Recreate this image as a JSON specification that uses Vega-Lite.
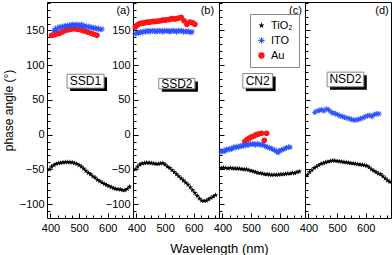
{
"$schema": "https://vega.github.io/schema/vega-lite/v6.json",
"padding": {"left": 1, "top": 1, "right": 0, "bottom": 0},
"config": {"font": "Liberation Sans", "view": {"stroke": "black", "strokeWidth": 1}, "axis": {"domain": false, "grid": false, "tickColor": "black", "labelColor": "black", "titleColor": "black", "labelFontSize": 11, "labelFlush": false, "labelOverlap": false}},
"title": {"text": "Wavelength (nm)", "orient": "bottom", "anchor": "middle", "fontSize": 13, "fontWeight": "normal", "color": "black", "offset": 9, "dx": 22},
"resolve": {"scale": {"color": "shared", "shape": "shared", "x": "independent", "y": "independent"}},
"spacing": 0,
"bounds": "flush",
"datasets": {"d": [
{"p":"a","s":"Au","wl":404,"ph":143},{"p":"a","s":"Au","wl":412,"ph":143.5},{"p":"a","s":"Au","wl":422,"ph":145},{"p":"a","s":"Au","wl":432,"ph":146},{"p":"a","s":"Au","wl":442,"ph":148},{"p":"a","s":"Au","wl":452,"ph":150},{"p":"a","s":"Au","wl":462,"ph":151},{"p":"a","s":"Au","wl":472,"ph":152},{"p":"a","s":"Au","wl":482,"ph":152.5},{"p":"a","s":"Au","wl":492,"ph":152},{"p":"a","s":"Au","wl":502,"ph":151.5},{"p":"a","s":"Au","wl":512,"ph":150},{"p":"a","s":"Au","wl":522,"ph":149},{"p":"a","s":"Au","wl":532,"ph":147.5},{"p":"a","s":"Au","wl":542,"ph":146},{"p":"a","s":"Au","wl":552,"ph":144.5},{"p":"a","s":"Au","wl":562,"ph":143},
{"p":"b","s":"Au","wl":396,"ph":155},{"p":"b","s":"Au","wl":404,"ph":158},{"p":"b","s":"Au","wl":412,"ph":160},{"p":"b","s":"Au","wl":420,"ph":160.5},{"p":"b","s":"Au","wl":428,"ph":161},{"p":"b","s":"Au","wl":436,"ph":162},{"p":"b","s":"Au","wl":444,"ph":162},{"p":"b","s":"Au","wl":452,"ph":162.5},{"p":"b","s":"Au","wl":460,"ph":163},{"p":"b","s":"Au","wl":468,"ph":163},{"p":"b","s":"Au","wl":476,"ph":163.5},{"p":"b","s":"Au","wl":484,"ph":164},{"p":"b","s":"Au","wl":492,"ph":165},{"p":"b","s":"Au","wl":500,"ph":165},{"p":"b","s":"Au","wl":508,"ph":165.5},{"p":"b","s":"Au","wl":516,"ph":166},{"p":"b","s":"Au","wl":524,"ph":167},{"p":"b","s":"Au","wl":532,"ph":166.5},{"p":"b","s":"Au","wl":540,"ph":167},{"p":"b","s":"Au","wl":548,"ph":168},{"p":"b","s":"Au","wl":556,"ph":169},{"p":"b","s":"Au","wl":566,"ph":164},{"p":"b","s":"Au","wl":576,"ph":159},{"p":"b","s":"Au","wl":586,"ph":162},{"p":"b","s":"Au","wl":596,"ph":161},{"p":"b","s":"Au","wl":604,"ph":159},
{"p":"c","s":"Au","wl":478,"ph":-10},{"p":"c","s":"Au","wl":486,"ph":-7},{"p":"c","s":"Au","wl":494,"ph":-5},{"p":"c","s":"Au","wl":502,"ph":-3},{"p":"c","s":"Au","wl":510,"ph":-2},{"p":"c","s":"Au","wl":518,"ph":0},{"p":"c","s":"Au","wl":526,"ph":1},{"p":"c","s":"Au","wl":536,"ph":2},{"p":"c","s":"Au","wl":546,"ph":-8},{"p":"c","s":"Au","wl":554,"ph":2},
{"p":"a","s":"ITO","wl":412,"ph":150},{"p":"a","s":"ITO","wl":418,"ph":153},{"p":"a","s":"ITO","wl":424,"ph":151},{"p":"a","s":"ITO","wl":430,"ph":155},{"p":"a","s":"ITO","wl":436,"ph":154},{"p":"a","s":"ITO","wl":442,"ph":156},{"p":"a","s":"ITO","wl":448,"ph":155},{"p":"a","s":"ITO","wl":454,"ph":157},{"p":"a","s":"ITO","wl":460,"ph":156},{"p":"a","s":"ITO","wl":466,"ph":158},{"p":"a","s":"ITO","wl":472,"ph":157},{"p":"a","s":"ITO","wl":478,"ph":159},{"p":"a","s":"ITO","wl":484,"ph":157},{"p":"a","s":"ITO","wl":490,"ph":159},{"p":"a","s":"ITO","wl":496,"ph":158},{"p":"a","s":"ITO","wl":502,"ph":157},{"p":"a","s":"ITO","wl":508,"ph":159},{"p":"a","s":"ITO","wl":514,"ph":156},{"p":"a","s":"ITO","wl":520,"ph":157},{"p":"a","s":"ITO","wl":526,"ph":155},{"p":"a","s":"ITO","wl":532,"ph":156},{"p":"a","s":"ITO","wl":538,"ph":154},{"p":"a","s":"ITO","wl":544,"ph":155},{"p":"a","s":"ITO","wl":550,"ph":153},{"p":"a","s":"ITO","wl":556,"ph":154},{"p":"a","s":"ITO","wl":562,"ph":152},{"p":"a","s":"ITO","wl":568,"ph":153},{"p":"a","s":"ITO","wl":574,"ph":151},{"p":"a","s":"ITO","wl":580,"ph":152},
{"p":"b","s":"ITO","wl":396,"ph":145},{"p":"b","s":"ITO","wl":402,"ph":147},{"p":"b","s":"ITO","wl":408,"ph":146},{"p":"b","s":"ITO","wl":414,"ph":148},{"p":"b","s":"ITO","wl":420,"ph":147},{"p":"b","s":"ITO","wl":426,"ph":149},{"p":"b","s":"ITO","wl":432,"ph":148},{"p":"b","s":"ITO","wl":438,"ph":150},{"p":"b","s":"ITO","wl":444,"ph":148},{"p":"b","s":"ITO","wl":450,"ph":150},{"p":"b","s":"ITO","wl":456,"ph":149},{"p":"b","s":"ITO","wl":462,"ph":150},{"p":"b","s":"ITO","wl":468,"ph":148},{"p":"b","s":"ITO","wl":474,"ph":150},{"p":"b","s":"ITO","wl":480,"ph":149},{"p":"b","s":"ITO","wl":486,"ph":150},{"p":"b","s":"ITO","wl":492,"ph":148},{"p":"b","s":"ITO","wl":498,"ph":150},{"p":"b","s":"ITO","wl":504,"ph":149},{"p":"b","s":"ITO","wl":510,"ph":150},{"p":"b","s":"ITO","wl":516,"ph":148},{"p":"b","s":"ITO","wl":522,"ph":150},{"p":"b","s":"ITO","wl":528,"ph":149},{"p":"b","s":"ITO","wl":534,"ph":150},{"p":"b","s":"ITO","wl":540,"ph":148},{"p":"b","s":"ITO","wl":546,"ph":150},{"p":"b","s":"ITO","wl":552,"ph":149},{"p":"b","s":"ITO","wl":558,"ph":150},{"p":"b","s":"ITO","wl":564,"ph":148},{"p":"b","s":"ITO","wl":570,"ph":149},{"p":"b","s":"ITO","wl":576,"ph":148},{"p":"b","s":"ITO","wl":582,"ph":149},{"p":"b","s":"ITO","wl":588,"ph":147},{"p":"b","s":"ITO","wl":594,"ph":148},
{"p":"c","s":"ITO","wl":396,"ph":-25},{"p":"c","s":"ITO","wl":402,"ph":-23},{"p":"c","s":"ITO","wl":408,"ph":-24},{"p":"c","s":"ITO","wl":414,"ph":-21},{"p":"c","s":"ITO","wl":420,"ph":-22},{"p":"c","s":"ITO","wl":426,"ph":-20},{"p":"c","s":"ITO","wl":432,"ph":-21},{"p":"c","s":"ITO","wl":438,"ph":-18},{"p":"c","s":"ITO","wl":444,"ph":-19},{"p":"c","s":"ITO","wl":450,"ph":-17},{"p":"c","s":"ITO","wl":456,"ph":-18},{"p":"c","s":"ITO","wl":462,"ph":-16},{"p":"c","s":"ITO","wl":468,"ph":-17},{"p":"c","s":"ITO","wl":474,"ph":-15},{"p":"c","s":"ITO","wl":480,"ph":-16},{"p":"c","s":"ITO","wl":486,"ph":-14},{"p":"c","s":"ITO","wl":492,"ph":-15},{"p":"c","s":"ITO","wl":498,"ph":-13},{"p":"c","s":"ITO","wl":504,"ph":-14},{"p":"c","s":"ITO","wl":510,"ph":-13},{"p":"c","s":"ITO","wl":516,"ph":-15},{"p":"c","s":"ITO","wl":522,"ph":-13},{"p":"c","s":"ITO","wl":528,"ph":-14},{"p":"c","s":"ITO","wl":534,"ph":-15},{"p":"c","s":"ITO","wl":540,"ph":-14},{"p":"c","s":"ITO","wl":546,"ph":-16},{"p":"c","s":"ITO","wl":552,"ph":-17},{"p":"c","s":"ITO","wl":558,"ph":-18},{"p":"c","s":"ITO","wl":564,"ph":-19},{"p":"c","s":"ITO","wl":570,"ph":-20},{"p":"c","s":"ITO","wl":576,"ph":-21},{"p":"c","s":"ITO","wl":582,"ph":-22},{"p":"c","s":"ITO","wl":588,"ph":-24},{"p":"c","s":"ITO","wl":594,"ph":-26},{"p":"c","s":"ITO","wl":600,"ph":-23},{"p":"c","s":"ITO","wl":606,"ph":-22},{"p":"c","s":"ITO","wl":612,"ph":-21},{"p":"c","s":"ITO","wl":618,"ph":-20},{"p":"c","s":"ITO","wl":624,"ph":-19},{"p":"c","s":"ITO","wl":630,"ph":-18},{"p":"c","s":"ITO","wl":636,"ph":-18},
{"p":"d","s":"ITO","wl":422,"ph":32},{"p":"d","s":"ITO","wl":430,"ph":34},{"p":"d","s":"ITO","wl":438,"ph":35},{"p":"d","s":"ITO","wl":446,"ph":36},{"p":"d","s":"ITO","wl":454,"ph":34},{"p":"d","s":"ITO","wl":462,"ph":37},{"p":"d","s":"ITO","wl":470,"ph":36},{"p":"d","s":"ITO","wl":478,"ph":33},{"p":"d","s":"ITO","wl":486,"ph":31},{"p":"d","s":"ITO","wl":494,"ph":30},{"p":"d","s":"ITO","wl":502,"ph":29},{"p":"d","s":"ITO","wl":510,"ph":27},{"p":"d","s":"ITO","wl":518,"ph":26},{"p":"d","s":"ITO","wl":526,"ph":25},{"p":"d","s":"ITO","wl":534,"ph":24},{"p":"d","s":"ITO","wl":542,"ph":23},{"p":"d","s":"ITO","wl":550,"ph":22},{"p":"d","s":"ITO","wl":558,"ph":21},{"p":"d","s":"ITO","wl":566,"ph":21},{"p":"d","s":"ITO","wl":574,"ph":22},{"p":"d","s":"ITO","wl":582,"ph":23},{"p":"d","s":"ITO","wl":590,"ph":24},{"p":"d","s":"ITO","wl":598,"ph":26},{"p":"d","s":"ITO","wl":606,"ph":27},{"p":"d","s":"ITO","wl":614,"ph":28},{"p":"d","s":"ITO","wl":622,"ph":26},{"p":"d","s":"ITO","wl":630,"ph":29},{"p":"d","s":"ITO","wl":638,"ph":30},{"p":"d","s":"ITO","wl":646,"ph":30},
{"p":"a","s":"TiO₂","wl":396,"ph":-50},{"p":"a","s":"TiO₂","wl":404,"ph":-46},{"p":"a","s":"TiO₂","wl":412,"ph":-44},{"p":"a","s":"TiO₂","wl":420,"ph":-42},{"p":"a","s":"TiO₂","wl":428,"ph":-41},{"p":"a","s":"TiO₂","wl":436,"ph":-40.5},{"p":"a","s":"TiO₂","wl":444,"ph":-40},{"p":"a","s":"TiO₂","wl":452,"ph":-39.5},{"p":"a","s":"TiO₂","wl":460,"ph":-39.5},{"p":"a","s":"TiO₂","wl":468,"ph":-39.5},{"p":"a","s":"TiO₂","wl":476,"ph":-40},{"p":"a","s":"TiO₂","wl":484,"ph":-41},{"p":"a","s":"TiO₂","wl":492,"ph":-42},{"p":"a","s":"TiO₂","wl":500,"ph":-44},{"p":"a","s":"TiO₂","wl":508,"ph":-46},{"p":"a","s":"TiO₂","wl":516,"ph":-49},{"p":"a","s":"TiO₂","wl":524,"ph":-52},{"p":"a","s":"TiO₂","wl":532,"ph":-55},{"p":"a","s":"TiO₂","wl":540,"ph":-57},{"p":"a","s":"TiO₂","wl":548,"ph":-60},{"p":"a","s":"TiO₂","wl":556,"ph":-62},{"p":"a","s":"TiO₂","wl":564,"ph":-65},{"p":"a","s":"TiO₂","wl":572,"ph":-67},{"p":"a","s":"TiO₂","wl":580,"ph":-69},{"p":"a","s":"TiO₂","wl":588,"ph":-71},{"p":"a","s":"TiO₂","wl":596,"ph":-72.5},{"p":"a","s":"TiO₂","wl":604,"ph":-74},{"p":"a","s":"TiO₂","wl":612,"ph":-75.5},{"p":"a","s":"TiO₂","wl":620,"ph":-77},{"p":"a","s":"TiO₂","wl":628,"ph":-78},{"p":"a","s":"TiO₂","wl":636,"ph":-78.5},{"p":"a","s":"TiO₂","wl":644,"ph":-79},{"p":"a","s":"TiO₂","wl":652,"ph":-80},{"p":"a","s":"TiO₂","wl":660,"ph":-80},{"p":"a","s":"TiO₂","wl":668,"ph":-78},{"p":"a","s":"TiO₂","wl":676,"ph":-75},
{"p":"b","s":"TiO₂","wl":396,"ph":-50},{"p":"b","s":"TiO₂","wl":404,"ph":-46},{"p":"b","s":"TiO₂","wl":412,"ph":-43},{"p":"b","s":"TiO₂","wl":420,"ph":-41.5},{"p":"b","s":"TiO₂","wl":428,"ph":-41},{"p":"b","s":"TiO₂","wl":436,"ph":-40.5},{"p":"b","s":"TiO₂","wl":444,"ph":-40.5},{"p":"b","s":"TiO₂","wl":452,"ph":-41},{"p":"b","s":"TiO₂","wl":460,"ph":-41.5},{"p":"b","s":"TiO₂","wl":468,"ph":-42},{"p":"b","s":"TiO₂","wl":476,"ph":-42},{"p":"b","s":"TiO₂","wl":484,"ph":-41.5},{"p":"b","s":"TiO₂","wl":492,"ph":-41},{"p":"b","s":"TiO₂","wl":500,"ph":-43},{"p":"b","s":"TiO₂","wl":508,"ph":-46},{"p":"b","s":"TiO₂","wl":516,"ph":-48},{"p":"b","s":"TiO₂","wl":524,"ph":-51},{"p":"b","s":"TiO₂","wl":532,"ph":-54},{"p":"b","s":"TiO₂","wl":540,"ph":-57},{"p":"b","s":"TiO₂","wl":548,"ph":-60},{"p":"b","s":"TiO₂","wl":556,"ph":-63},{"p":"b","s":"TiO₂","wl":564,"ph":-66},{"p":"b","s":"TiO₂","wl":572,"ph":-69},{"p":"b","s":"TiO₂","wl":580,"ph":-72},{"p":"b","s":"TiO₂","wl":588,"ph":-76},{"p":"b","s":"TiO₂","wl":596,"ph":-80},{"p":"b","s":"TiO₂","wl":604,"ph":-84},{"p":"b","s":"TiO₂","wl":612,"ph":-88},{"p":"b","s":"TiO₂","wl":620,"ph":-92},{"p":"b","s":"TiO₂","wl":628,"ph":-95},{"p":"b","s":"TiO₂","wl":636,"ph":-95.5},{"p":"b","s":"TiO₂","wl":644,"ph":-95},{"p":"b","s":"TiO₂","wl":652,"ph":-93},{"p":"b","s":"TiO₂","wl":660,"ph":-91},{"p":"b","s":"TiO₂","wl":668,"ph":-89},{"p":"b","s":"TiO₂","wl":676,"ph":-87},
{"p":"c","s":"TiO₂","wl":396,"ph":-48},{"p":"c","s":"TiO₂","wl":404,"ph":-47.5},{"p":"c","s":"TiO₂","wl":412,"ph":-48},{"p":"c","s":"TiO₂","wl":420,"ph":-48.5},{"p":"c","s":"TiO₂","wl":428,"ph":-48},{"p":"c","s":"TiO₂","wl":436,"ph":-48.5},{"p":"c","s":"TiO₂","wl":444,"ph":-48.5},{"p":"c","s":"TiO₂","wl":452,"ph":-49},{"p":"c","s":"TiO₂","wl":460,"ph":-49},{"p":"c","s":"TiO₂","wl":468,"ph":-49.5},{"p":"c","s":"TiO₂","wl":476,"ph":-50},{"p":"c","s":"TiO₂","wl":484,"ph":-50},{"p":"c","s":"TiO₂","wl":492,"ph":-51},{"p":"c","s":"TiO₂","wl":500,"ph":-52},{"p":"c","s":"TiO₂","wl":508,"ph":-53},{"p":"c","s":"TiO₂","wl":516,"ph":-54},{"p":"c","s":"TiO₂","wl":524,"ph":-55},{"p":"c","s":"TiO₂","wl":532,"ph":-55.5},{"p":"c","s":"TiO₂","wl":540,"ph":-56},{"p":"c","s":"TiO₂","wl":548,"ph":-57},{"p":"c","s":"TiO₂","wl":556,"ph":-57},{"p":"c","s":"TiO₂","wl":564,"ph":-57.5},{"p":"c","s":"TiO₂","wl":572,"ph":-58},{"p":"c","s":"TiO₂","wl":580,"ph":-57.5},{"p":"c","s":"TiO₂","wl":588,"ph":-58},{"p":"c","s":"TiO₂","wl":596,"ph":-57.5},{"p":"c","s":"TiO₂","wl":604,"ph":-57},{"p":"c","s":"TiO₂","wl":612,"ph":-57},{"p":"c","s":"TiO₂","wl":620,"ph":-56.5},{"p":"c","s":"TiO₂","wl":628,"ph":-56},{"p":"c","s":"TiO₂","wl":636,"ph":-56},{"p":"c","s":"TiO₂","wl":644,"ph":-55},{"p":"c","s":"TiO₂","wl":652,"ph":-55.5},{"p":"c","s":"TiO₂","wl":660,"ph":-54},{"p":"c","s":"TiO₂","wl":668,"ph":-53},
{"p":"d","s":"TiO₂","wl":396,"ph":-58},{"p":"d","s":"TiO₂","wl":404,"ph":-54},{"p":"d","s":"TiO₂","wl":412,"ph":-51},{"p":"d","s":"TiO₂","wl":420,"ph":-48},{"p":"d","s":"TiO₂","wl":428,"ph":-46},{"p":"d","s":"TiO₂","wl":436,"ph":-44},{"p":"d","s":"TiO₂","wl":444,"ph":-42},{"p":"d","s":"TiO₂","wl":452,"ph":-41},{"p":"d","s":"TiO₂","wl":460,"ph":-40},{"p":"d","s":"TiO₂","wl":468,"ph":-39},{"p":"d","s":"TiO₂","wl":476,"ph":-38},{"p":"d","s":"TiO₂","wl":484,"ph":-37.5},{"p":"d","s":"TiO₂","wl":492,"ph":-37.5},{"p":"d","s":"TiO₂","wl":500,"ph":-38},{"p":"d","s":"TiO₂","wl":508,"ph":-38.5},{"p":"d","s":"TiO₂","wl":516,"ph":-39},{"p":"d","s":"TiO₂","wl":524,"ph":-39.5},{"p":"d","s":"TiO₂","wl":532,"ph":-40},{"p":"d","s":"TiO₂","wl":540,"ph":-40.5},{"p":"d","s":"TiO₂","wl":548,"ph":-41},{"p":"d","s":"TiO₂","wl":556,"ph":-41.5},{"p":"d","s":"TiO₂","wl":564,"ph":-42},{"p":"d","s":"TiO₂","wl":572,"ph":-42.5},{"p":"d","s":"TiO₂","wl":580,"ph":-43},{"p":"d","s":"TiO₂","wl":588,"ph":-43.5},{"p":"d","s":"TiO₂","wl":596,"ph":-44},{"p":"d","s":"TiO₂","wl":604,"ph":-45},{"p":"d","s":"TiO₂","wl":612,"ph":-47},{"p":"d","s":"TiO₂","wl":620,"ph":-50},{"p":"d","s":"TiO₂","wl":628,"ph":-52},{"p":"d","s":"TiO₂","wl":636,"ph":-54},{"p":"d","s":"TiO₂","wl":644,"ph":-56},{"p":"d","s":"TiO₂","wl":652,"ph":-57},{"p":"d","s":"TiO₂","wl":660,"ph":-60},{"p":"d","s":"TiO₂","wl":668,"ph":-63},{"p":"d","s":"TiO₂","wl":676,"ph":-66},{"p":"d","s":"TiO₂","wl":684,"ph":-68}
]},
"hconcat": [
{"width": 86, "height": 216, "resolve": {"axis": {"x": "independent", "y": "independent"}}, "layer": [
 {"data": {"name": "d"}, "transform": [{"filter": "datum.p === 'a'"}], "mark": {"type": "point", "filled": true, "opacity": 1, "size": 32},
  "encoding": {
   "x": {"field": "wl", "type": "quantitative", "scale": {"domain": [388, 688], "nice": false, "zero": false}, "axis": {"title": null, "orient": "bottom", "values": [400, 500, 600], "tickSize": -5, "labelPadding": 9}},
   "y": {"field": "ph", "type": "quantitative", "scale": {"domain": [-120, 191], "nice": false, "zero": false}, "axis": {"title": "phase angle (°)", "orient": "left", "titleFontSize": 12, "titleFontWeight": "normal", "titlePadding": 4, "values": [-100,-50,0,50,100,150], "tickSize": -5, "labelPadding": 8}},
   "color": {"field": "s", "type": "nominal", "scale": {"domain": ["TiO₂", "ITO", "Au"], "range": ["#000000", "#2a52ff", "#ff1414"]}, "legend": {"title": null, "orient": "none", "legendX": 203, "legendY": 12, "strokeColor": "#888888", "fillColor": "white", "padding": 6, "labelFontSize": 11, "symbolSize": 40, "rowPadding": 3}},
   "shape": {"field": "s", "type": "nominal", "scale": {"domain": ["TiO₂", "ITO", "Au"], "range": ["M0,-1L0.235,-0.324L0.951,-0.309L0.38,0.124L0.588,0.809L0,0.4L-0.588,0.809L-0.38,0.124L-0.951,-0.309L-0.235,-0.324Z", "M-1,-0.15L1,-0.15L1,0.15L-1,0.15ZM-0.15,-1L0.15,-1L0.15,1L-0.15,1ZM-0.6,-0.8L0.8,0.6L0.6,0.8L-0.8,-0.6ZM0.8,-0.6L-0.6,0.8L-0.8,0.6L0.6,-0.8Z", "circle"]}, "legend": {"title": null, "orient": "none", "legendX": 203, "legendY": 12, "strokeColor": "#888888", "fillColor": "white", "padding": 6, "labelFontSize": 11, "symbolSize": 40, "rowPadding": 3}}
  }},
 {"data": {"values": [{}]}, "mark": {"type": "rect", "fill": "black", "xOffset": 3, "x2Offset": 3, "yOffset": 3, "y2Offset": 3}, "encoding": {"x": {"datum": 458, "type": "quantitative", "axis": null}, "x2": {"datum": 587}, "y": {"datum": 87, "type": "quantitative", "axis": null}, "y2": {"datum": 67}}},
 {"data": {"values": [{}]}, "mark": {"type": "rect", "fill": "white", "stroke": "#888888", "strokeWidth": 1}, "encoding": {"x": {"datum": 458, "type": "quantitative", "axis": null}, "x2": {"datum": 587}, "y": {"datum": 87, "type": "quantitative", "axis": null}, "y2": {"datum": 67}}},
 {"data": {"values": [{}]}, "mark": {"type": "text", "fontSize": 12, "color": "black"}, "encoding": {"x": {"datum": 522, "type": "quantitative", "axis": null}, "y": {"datum": 77, "type": "quantitative", "axis": null}, "text": {"value": "SSD1"}}},
 {"data": {"values": [{}]}, "mark": {"type": "text", "fontSize": 11, "color": "black", "align": "right"}, "encoding": {"x": {"datum": 677, "type": "quantitative", "axis": {"title": null, "orient": "bottom", "labels": false, "values": [400,425,450,475,500,525,550,575,600,625,650,675], "tickSize": -3}}, "y": {"datum": 178, "type": "quantitative", "axis": {"title": null, "orient": "left", "labels": false, "values": [-110,-100,-90,-80,-70,-60,-50,-40,-30,-20,-10,0,10,20,30,40,50,60,70,80,90,100,110,120,130,140,150,160,170,180,190], "tickSize": -3}}, "text": {"value": "(a)"}}}
]},
{"width": 86, "height": 216, "resolve": {"axis": {"x": "independent", "y": "independent"}}, "layer": [
 {"data": {"name": "d"}, "transform": [{"filter": "datum.p === 'b'"}], "mark": {"type": "point", "filled": true, "opacity": 1, "size": 32},
  "encoding": {
   "x": {"field": "wl", "type": "quantitative", "scale": {"domain": [388, 688], "nice": false, "zero": false}, "axis": {"title": null, "orient": "bottom", "values": [400, 500, 600], "tickSize": -5, "labelPadding": 9}},
   "y": {"field": "ph", "type": "quantitative", "scale": {"domain": [-120, 191], "nice": false, "zero": false}, "axis": {"title": null, "orient": "left", "values": [-100,-50,0,50,100,150], "tickSize": -5, "labelPadding": 8}},
   "color": {"field": "s", "type": "nominal", "scale": {"domain": ["TiO₂", "ITO", "Au"], "range": ["#000000", "#2a52ff", "#ff1414"]}, "legend": {"title": null, "orient": "none", "legendX": 203, "legendY": 12, "strokeColor": "#888888", "fillColor": "white", "padding": 6, "labelFontSize": 11, "symbolSize": 40, "rowPadding": 3}},
   "shape": {"field": "s", "type": "nominal", "scale": {"domain": ["TiO₂", "ITO", "Au"], "range": ["M0,-1L0.235,-0.324L0.951,-0.309L0.38,0.124L0.588,0.809L0,0.4L-0.588,0.809L-0.38,0.124L-0.951,-0.309L-0.235,-0.324Z", "M-1,-0.15L1,-0.15L1,0.15L-1,0.15ZM-0.15,-1L0.15,-1L0.15,1L-0.15,1ZM-0.6,-0.8L0.8,0.6L0.6,0.8L-0.8,-0.6ZM0.8,-0.6L-0.6,0.8L-0.8,0.6L0.6,-0.8Z", "circle"]}, "legend": {"title": null, "orient": "none", "legendX": 203, "legendY": 12, "strokeColor": "#888888", "fillColor": "white", "padding": 6, "labelFontSize": 11, "symbolSize": 40, "rowPadding": 3}}
  }},
 {"data": {"values": [{}]}, "mark": {"type": "rect", "fill": "black", "xOffset": 3, "x2Offset": 3, "yOffset": 3, "y2Offset": 3}, "encoding": {"x": {"datum": 478, "type": "quantitative", "axis": null}, "x2": {"datum": 604}, "y": {"datum": 81, "type": "quantitative", "axis": null}, "y2": {"datum": 66}}},
 {"data": {"values": [{}]}, "mark": {"type": "rect", "fill": "white", "stroke": "#888888", "strokeWidth": 1}, "encoding": {"x": {"datum": 478, "type": "quantitative", "axis": null}, "x2": {"datum": 604}, "y": {"datum": 81, "type": "quantitative", "axis": null}, "y2": {"datum": 66}}},
 {"data": {"values": [{}]}, "mark": {"type": "text", "fontSize": 12, "color": "black"}, "encoding": {"x": {"datum": 541, "type": "quantitative", "axis": null}, "y": {"datum": 73.5, "type": "quantitative", "axis": null}, "text": {"value": "SSD2"}}},
 {"data": {"values": [{}]}, "mark": {"type": "text", "fontSize": 11, "color": "black", "align": "right"}, "encoding": {"x": {"datum": 671, "type": "quantitative", "axis": {"title": null, "orient": "bottom", "labels": false, "values": [400,425,450,475,500,525,550,575,600,625,650,675], "tickSize": -3}}, "y": {"datum": 178, "type": "quantitative", "axis": {"title": null, "orient": "left", "labels": false, "values": [-110,-100,-90,-80,-70,-60,-50,-40,-30,-20,-10,0,10,20,30,40,50,60,70,80,90,100,110,120,130,140,150,160,170,180,190], "tickSize": -3}}, "text": {"value": "(b)"}}}
]},
{"width": 86, "height": 216, "resolve": {"axis": {"x": "independent", "y": "independent"}}, "layer": [
 {"data": {"name": "d"}, "transform": [{"filter": "datum.p === 'c'"}], "mark": {"type": "point", "filled": true, "opacity": 1, "size": 32},
  "encoding": {
   "x": {"field": "wl", "type": "quantitative", "scale": {"domain": [388, 688], "nice": false, "zero": false}, "axis": {"title": null, "orient": "bottom", "values": [400, 500, 600], "tickSize": -5, "labelPadding": 9}},
   "y": {"field": "ph", "type": "quantitative", "scale": {"domain": [-120, 191], "nice": false, "zero": false}, "axis": {"title": null, "orient": "left", "labels": false, "values": [-100,-50,0,50,100,150], "tickSize": -5}},
   "color": {"field": "s", "type": "nominal", "scale": {"domain": ["TiO₂", "ITO", "Au"], "range": ["#000000", "#2a52ff", "#ff1414"]}, "legend": {"title": null, "orient": "none", "legendX": 203, "legendY": 12, "strokeColor": "#888888", "fillColor": "white", "padding": 6, "labelFontSize": 11, "symbolSize": 40, "rowPadding": 3}},
   "shape": {"field": "s", "type": "nominal", "scale": {"domain": ["TiO₂", "ITO", "Au"], "range": ["M0,-1L0.235,-0.324L0.951,-0.309L0.38,0.124L0.588,0.809L0,0.4L-0.588,0.809L-0.38,0.124L-0.951,-0.309L-0.235,-0.324Z", "M-1,-0.15L1,-0.15L1,0.15L-1,0.15ZM-0.15,-1L0.15,-1L0.15,1L-0.15,1ZM-0.6,-0.8L0.8,0.6L0.6,0.8L-0.8,-0.6ZM0.8,-0.6L-0.6,0.8L-0.8,0.6L0.6,-0.8Z", "circle"]}, "legend": {"title": null, "orient": "none", "legendX": 203, "legendY": 12, "strokeColor": "#888888", "fillColor": "white", "padding": 6, "labelFontSize": 11, "symbolSize": 40, "rowPadding": 3}}
  }},
 {"data": {"values": [{}]}, "mark": {"type": "rect", "fill": "black", "xOffset": 3, "x2Offset": 3, "yOffset": 3, "y2Offset": 3}, "encoding": {"x": {"datum": 471, "type": "quantitative", "axis": null}, "x2": {"datum": 575}, "y": {"datum": 88, "type": "quantitative", "axis": null}, "y2": {"datum": 67}}},
 {"data": {"values": [{}]}, "mark": {"type": "rect", "fill": "white", "stroke": "#888888", "strokeWidth": 1}, "encoding": {"x": {"datum": 471, "type": "quantitative", "axis": null}, "x2": {"datum": 575}, "y": {"datum": 88, "type": "quantitative", "axis": null}, "y2": {"datum": 67}}},
 {"data": {"values": [{}]}, "mark": {"type": "text", "fontSize": 12, "color": "black"}, "encoding": {"x": {"datum": 523, "type": "quantitative", "axis": null}, "y": {"datum": 77.5, "type": "quantitative", "axis": null}, "text": {"value": "CN2"}}},
 {"data": {"values": [{}]}, "mark": {"type": "text", "fontSize": 11, "color": "black", "align": "right"}, "encoding": {"x": {"datum": 677, "type": "quantitative", "axis": {"title": null, "orient": "bottom", "labels": false, "values": [400,425,450,475,500,525,550,575,600,625,650,675], "tickSize": -3}}, "y": {"datum": 178, "type": "quantitative", "axis": {"title": null, "orient": "left", "labels": false, "values": [-110,-100,-90,-80,-70,-60,-50,-40,-30,-20,-10,0,10,20,30,40,50,60,70,80,90,100,110,120,130,140,150,160,170,180,190], "tickSize": -3}}, "text": {"value": "(c)"}}}
]},
{"width": 86, "height": 216, "resolve": {"axis": {"x": "independent", "y": "independent"}}, "layer": [
 {"data": {"name": "d"}, "transform": [{"filter": "datum.p === 'd'"}], "mark": {"type": "point", "filled": true, "opacity": 1, "size": 32},
  "encoding": {
   "x": {"field": "wl", "type": "quantitative", "scale": {"domain": [388, 688], "nice": false, "zero": false}, "axis": {"title": null, "orient": "bottom", "values": [400, 500, 600], "tickSize": -5, "labelPadding": 9}},
   "y": {"field": "ph", "type": "quantitative", "scale": {"domain": [-120, 191], "nice": false, "zero": false}, "axis": {"title": null, "orient": "left", "labels": false, "values": [-100,-50,0,50,100,150], "tickSize": -5}},
   "color": {"field": "s", "type": "nominal", "scale": {"domain": ["TiO₂", "ITO", "Au"], "range": ["#000000", "#2a52ff", "#ff1414"]}, "legend": {"title": null, "orient": "none", "legendX": 203, "legendY": 12, "strokeColor": "#888888", "fillColor": "white", "padding": 6, "labelFontSize": 11, "symbolSize": 40, "rowPadding": 3}},
   "shape": {"field": "s", "type": "nominal", "scale": {"domain": ["TiO₂", "ITO", "Au"], "range": ["M0,-1L0.235,-0.324L0.951,-0.309L0.38,0.124L0.588,0.809L0,0.4L-0.588,0.809L-0.38,0.124L-0.951,-0.309L-0.235,-0.324Z", "M-1,-0.15L1,-0.15L1,0.15L-1,0.15ZM-0.15,-1L0.15,-1L0.15,1L-0.15,1ZM-0.6,-0.8L0.8,0.6L0.6,0.8L-0.8,-0.6ZM0.8,-0.6L-0.6,0.8L-0.8,0.6L0.6,-0.8Z", "circle"]}, "legend": {"title": null, "orient": "none", "legendX": 203, "legendY": 12, "strokeColor": "#888888", "fillColor": "white", "padding": 6, "labelFontSize": 11, "symbolSize": 40, "rowPadding": 3}}
  }},
 {"data": {"values": [{}]}, "mark": {"type": "rect", "fill": "black", "xOffset": 3, "x2Offset": 3, "yOffset": 3, "y2Offset": 3}, "encoding": {"x": {"datum": 465, "type": "quantitative", "axis": null}, "x2": {"datum": 593}, "y": {"datum": 90, "type": "quantitative", "axis": null}, "y2": {"datum": 69}}},
 {"data": {"values": [{}]}, "mark": {"type": "rect", "fill": "white", "stroke": "#888888", "strokeWidth": 1}, "encoding": {"x": {"datum": 465, "type": "quantitative", "axis": null}, "x2": {"datum": 593}, "y": {"datum": 90, "type": "quantitative", "axis": null}, "y2": {"datum": 69}}},
 {"data": {"values": [{}]}, "mark": {"type": "text", "fontSize": 12, "color": "black"}, "encoding": {"x": {"datum": 529, "type": "quantitative", "axis": null}, "y": {"datum": 79.5, "type": "quantitative", "axis": null}, "text": {"value": "NSD2"}}},
 {"data": {"values": [{}]}, "mark": {"type": "text", "fontSize": 11, "color": "black", "align": "right"}, "encoding": {"x": {"datum": 680, "type": "quantitative", "axis": {"title": null, "orient": "bottom", "labels": false, "values": [400,425,450,475,500,525,550,575,600,625,650,675], "tickSize": -3}}, "y": {"datum": 178, "type": "quantitative", "axis": {"title": null, "orient": "left", "labels": false, "values": [-110,-100,-90,-80,-70,-60,-50,-40,-30,-20,-10,0,10,20,30,40,50,60,70,80,90,100,110,120,130,140,150,160,170,180,190], "tickSize": -3}}, "text": {"value": "(d)"}}}
]}
]
}
